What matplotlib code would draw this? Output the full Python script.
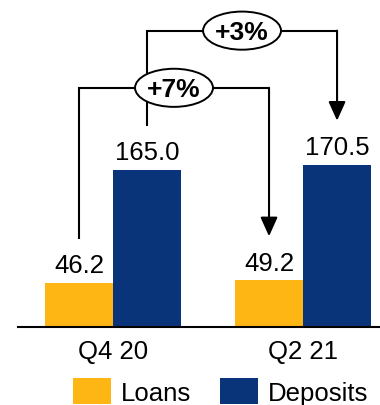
import matplotlib.pyplot as plt
from matplotlib.patches import Ellipse

plt.rcParams['font.family'] = 'Liberation Sans'

# values
quarters = ['Q4 20', 'Q2 21']
loans = [46.2, 49.2]
deposits = [165.0, 170.5]
loans_growth = '+7%'
deposits_growth = '+3%'

gold = '#FDB614'
navy = '#0A3479'

fig = plt.figure(figsize=(3.8, 4.06), dpi=100)
ax = fig.add_axes([18 / 380, 78 / 406, 362 / 380, 328 / 406])

x = list(range(len(quarters)))
w = 0.358
b1 = ax.bar([i - w / 2 for i in x], loans, w, color=gold, label='Loans')
b2 = ax.bar([i + w / 2 for i in x], deposits, w, color=navy, label='Deposits')
ax.bar_label(b1, fmt='%.1f', padding=4, fontsize=18.5)
ax.bar_label(b2, fmt='%.1f', padding=4, fontsize=18.5)


def bracket(x0, x1, y0, y1, top, text):
    ax.plot([x0, x0, x1], [y0, top, top], color='black', lw=1.5, zorder=2,
            solid_joinstyle='miter', solid_capstyle='butt')
    ax.annotate('', xy=(x1, y1), xytext=(x1, top),
                arrowprops=dict(arrowstyle='-|>,head_length=0.4,head_width=0.18',
                                mutation_scale=29, lw=1.5, color='black',
                                shrinkA=0, shrinkB=0), zorder=2)
    xm = (x0 + x1) / 2
    ax.add_patch(Ellipse((xm, top), 0.41, 40, facecolor='white',
                         edgecolor='black', lw=1.4, zorder=3))
    ax.text(xm, top - 1, text, ha='center', va='center', fontsize=19,
            fontweight='bold', zorder=4)


gap = 46
bracket(x[0] - w / 2, x[1] - w / 2, loans[0] + gap, loans[1] + gap, 251, loans_growth)
bracket(x[0] + w / 2, x[1] + w / 2, deposits[0] + gap, deposits[1] + gap, 311, deposits_growth)

ax.set_xlim(-0.5, 1.405)
ax.set_ylim(0, 344.2)
for s in ['top', 'right', 'left']:
    ax.spines[s].set_visible(False)
ax.spines['bottom'].set_linewidth(1.5)
ax.set_yticks([])
ax.set_xticks(x)
ax.set_xticklabels(quarters, fontsize=18.5)
ax.tick_params(axis='x', length=0, pad=9)

fig.legend(loc='upper left', bbox_to_anchor=(72.7 / 380, 1 - 379 / 406), ncol=2,
           frameon=False, fontsize=18.5, handlelength=1.48, handleheight=1.2,
           handletextpad=0.4, columnspacing=1.1, borderpad=0, borderaxespad=0)

fig.savefig('out.png', dpi=100)
